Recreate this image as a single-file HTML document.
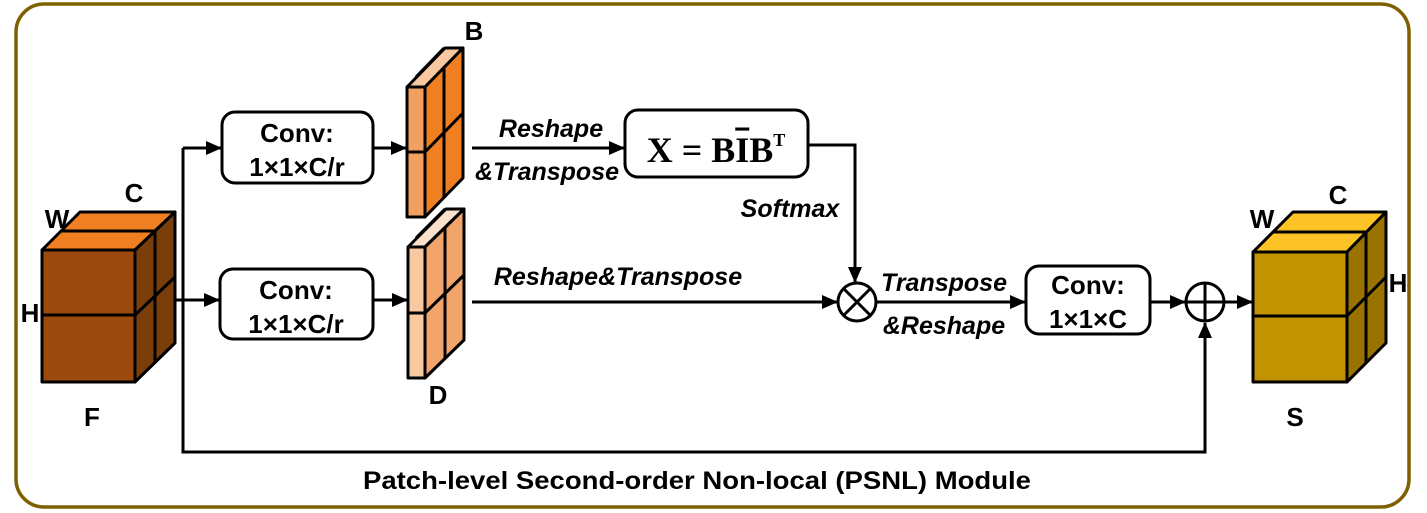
<!DOCTYPE html>
<html><head><meta charset="utf-8"><style>
html,body{margin:0;padding:0;background:#fff;}
svg{display:block;}
.t{font-family:"Liberation Sans",sans-serif;font-weight:bold;fill:#000;}
.i{font-family:"Liberation Sans",sans-serif;font-weight:bold;font-style:italic;fill:#000;}
</style></head><body>
<svg width="1427" height="513" viewBox="0 0 1427 513" xmlns="http://www.w3.org/2000/svg">
<defs>
<marker id="a" markerWidth="16" markerHeight="14" refX="15" refY="7" orient="auto" markerUnits="userSpaceOnUse">
<path d="M0,0 L16,7 L0,14 z" fill="#000"/></marker>
</defs>
<rect x="16" y="4" width="1393" height="503" rx="28" fill="none" stroke="#7F6000" stroke-width="3.5"/>

<g stroke="#000" stroke-width="3" stroke-linejoin="round">
<polygon points="42,250 80,212 175,212 135,250" fill="#F07F22"/>
<polygon points="135,250 175,212 175,343 135,382" fill="#7A3E0A"/>
<rect x="42" y="250" width="93" height="132" fill="#9A4A0C"/>
<line x1="61" y1="231" x2="155" y2="231"/>
<line x1="155" y1="231" x2="155" y2="362"/>
<line x1="42" y1="315" x2="135" y2="315"/>
<line x1="135" y1="315" x2="175" y2="277"/>
<polygon points="1253,252 1293,212 1386,212 1347,252" fill="#FDC326"/>
<polygon points="1347,252 1386,212 1386,343 1347,382" fill="#9A7200"/>
<rect x="1253" y="252" width="94" height="130" fill="#C39200"/>
<line x1="1273" y1="232" x2="1366" y2="232"/>
<line x1="1366" y1="232" x2="1366" y2="362"/>
<line x1="1253" y1="316" x2="1347" y2="316"/>
<line x1="1347" y1="316" x2="1386" y2="277"/>
<polygon points="407,87 445,48 463,48 425,87" fill="#F8C8A0"/>
<polygon points="425,87 463,48 463,178 425,217" fill="#F07F22"/>
<rect x="407" y="87" width="18" height="130" fill="#F2A060"/>
<line x1="416" y1="77" x2="444" y2="48"/>
<line x1="444" y1="68" x2="444" y2="197"/>
<line x1="407" y1="152" x2="425" y2="152"/>
<line x1="425" y1="152" x2="463" y2="113"/>
<polygon points="408,247 446,209 464,209 425,247" fill="#FBE0CC"/>
<polygon points="425,247 464,209 464,340 425,378" fill="#F2A56A"/>
<rect x="408" y="247" width="17" height="131" fill="#F8C8A0"/>
<line x1="416" y1="238" x2="445" y2="209"/>
<line x1="445" y1="228" x2="445" y2="359"/>
<line x1="408" y1="313" x2="425" y2="313"/>
<line x1="425" y1="313" x2="464" y2="275"/>
<rect x="222" y="112" width="151" height="71" rx="13" fill="#fff"/>
<rect x="220" y="269" width="153" height="70" rx="13" fill="#fff"/>
<rect x="625" y="110" width="183" height="67" rx="13" fill="#fff"/>
<rect x="1026" y="266" width="124" height="68" rx="13" fill="#fff"/>
<circle cx="857" cy="302" r="19" fill="#fff"/>
<line x1="844" y1="289" x2="870" y2="315"/><line x1="870" y1="289" x2="844" y2="315"/>
<circle cx="1205" cy="302" r="19" fill="#fff"/>
<line x1="1186" y1="302" x2="1224" y2="302"/><line x1="1205" y1="283" x2="1205" y2="321"/>
</g>

<g stroke="#000" stroke-width="3" fill="none">
<polyline points="183,148 183,452 1205,452 1205,323" marker-end="url(#a)"/>
<line x1="183" y1="148" x2="221" y2="148" marker-end="url(#a)"/>
<line x1="175" y1="300" x2="219" y2="300" marker-end="url(#a)"/>
<line x1="373" y1="148" x2="406" y2="148" marker-end="url(#a)"/>
<line x1="373" y1="300" x2="407" y2="300" marker-end="url(#a)"/>
<line x1="472" y1="148" x2="624" y2="148" marker-end="url(#a)"/>
<polyline points="808,145 855,145 855,282" marker-end="url(#a)"/>
<line x1="472" y1="302" x2="837" y2="302" marker-end="url(#a)"/>
<line x1="876" y1="302" x2="1025" y2="302" marker-end="url(#a)"/>
<line x1="1150" y1="302" x2="1185" y2="302" marker-end="url(#a)"/>
<line x1="1224" y1="302" x2="1252" y2="302" marker-end="url(#a)"/>
</g>

<g class="t" font-size="26" text-anchor="middle">
<text x="297" y="142">Conv:</text>
<text x="297" y="176">1×1×C/r</text>
<text x="296" y="299">Conv:</text>
<text x="296" y="333">1×1×C/r</text>
<text x="1088" y="294">Conv:</text>
<text x="1088" y="328">1×1×C</text>
<text x="57" y="228">W</text>
<text x="134" y="202">C</text>
<text x="30" y="322">H</text>
<text x="92" y="426">F</text>
<text x="1262" y="228">W</text>
<text x="1338" y="204">C</text>
<text x="1398" y="292">H</text>
<text x="1295" y="426">S</text>
<text x="474" y="40">B</text>
<text x="438" y="404">D</text>
</g>
<g class="i" font-size="25" text-anchor="middle">
<text x="551" y="137">Reshape</text>
<text x="547" y="180">&amp;Transpose</text>
<text x="790" y="217">Softmax</text>
<text x="618" y="285">Reshape&amp;Transpose</text>
<text x="944" y="291">Transpose</text>
<text x="944" y="334">&amp;Reshape</text>
</g>
<text x="716" y="162" text-anchor="middle" font-family="Liberation Serif,serif" font-weight="bold" font-size="36">X = B<tspan text-decoration="overline">I</tspan>B<tspan font-size="18" dy="-16">T</tspan></text>
<text x="697" y="489" text-anchor="middle" font-family="Liberation Sans,sans-serif" font-weight="bold" font-size="25" textLength="668" lengthAdjust="spacingAndGlyphs" fill="#000">Patch-level Second-order Non-local (PSNL) Module</text>
</svg>
</body></html>
